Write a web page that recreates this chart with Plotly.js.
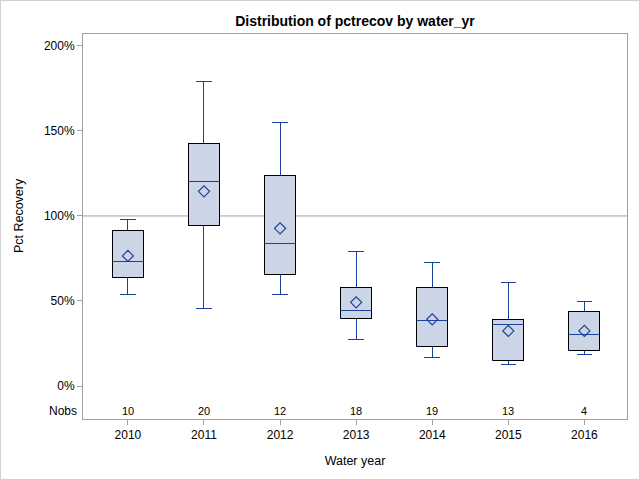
<!DOCTYPE html>
<html>
<head>
<meta charset="utf-8">
<script src="https://cdn.plot.ly/plotly-3.0.1.min.js"></script>
<style>
html,body{margin:0;padding:0;background:#fff;}
#chart{width:638px;height:478px;border:1px solid #d0d0d0;}
.boxlayer path{shape-rendering:crispEdges;}
.scatterlayer .trace:first-child .js-line{shape-rendering:crispEdges;}
</style>
</head>
<body>
<div id="chart"></div>
<script>
// Data
var years = ['2010','2011','2012','2013','2014','2015','2016'];
var nobs = [10, 20, 12, 18, 19, 13, 4];
var whiskerLow = [54.1, 45.7, 54.1, 27.5, 16.9, 12.7, 18.6];
var q1 = [63.9, 94.1, 65.3, 39.8, 23.3, 15.1, 21.0];
var median = [73.5, 120.4, 83.9, 44.5, 38.6, 36.3, 30.4];
var q3 = [91.2, 142.7, 123.5, 57.8, 57.8, 39.2, 43.9];
var whiskerHigh = [98.0, 178.8, 155.1, 79.2, 72.7, 61.0, 49.8];
var meanVal = [76.5, 114.5, 92.7, 49.2, 39.2, 32.4, 32.4];
var yTicks = [0, 50, 100, 150, 200];
var yTickText = ['0%', '50%', '100%', '150%', '200%'];

var blue = '#1a419e';
var fill = '#cbd5e5';
var axisGray = '#a0a0a0';
var font = 'Liberation Sans, Arial, sans-serif';
var boxWidth = 0.41;

var idx = years.map(function(_, i){ return i; });

// black outline of each box (interquartile rectangle), built from q1/q3
var outX = [], outY = [];
idx.forEach(function(i){
  var a = i - boxWidth / 2, b = i + boxWidth / 2;
  outX.push(a, b, b, a, a, null);
  outY.push(q1[i], q1[i], q3[i], q3[i], q1[i], null);
});

var traces = [
  {
    type: 'box', x: idx, q1: q1, median: median, q3: q3,
    lowerfence: whiskerLow, upperfence: whiskerHigh,
    width: boxWidth, whiskerwidth: 0.5,
    fillcolor: fill, line: {color: blue, width: 1},
    hoverinfo: 'skip', showlegend: false
  },
  {
    type: 'scatter', mode: 'lines', x: outX, y: outY,
    line: {color: '#000000', width: 1}, connectgaps: false,
    hoverinfo: 'skip', showlegend: false
  },
  {
    type: 'scatter', mode: 'markers', x: idx, y: meanVal,
    marker: {symbol: 'diamond-open', size: 8.5, color: blue, line: {width: 1.2, color: blue}},
    hoverinfo: 'skip', showlegend: false
  }
];

var annotations = idx.map(function(i){
  return {x: i, y: -14.7, xref: 'x', yref: 'y', text: String(nobs[i]), showarrow: false,
          font: {family: font, size: 11, color: '#000'}};
});
annotations.push({x: 0, xref: 'paper', xanchor: 'right', xshift: -4, y: -14.7, yref: 'y',
  text: 'Nobs', showarrow: false, font: {family: font, size: 12, color: '#000'}});
annotations.push({x: 0, xref: 'paper', xanchor: 'center', xshift: -64, y: 0.527, yref: 'paper',
  yanchor: 'middle', textangle: -90,
  text: 'Pct Recovery', showarrow: false, font: {family: font, size: 12.5, color: '#000'}});

var layout = {
  width: 638, height: 478,
  margin: {l: 82, r: 12, t: 33, b: 60},
  paper_bgcolor: '#fff', plot_bgcolor: '#fff',
  boxmode: 'overlay',
  font: {family: font, size: 12, color: '#000'},
  title: {text: '<b>Distribution of pctrecov by water_yr</b>', x: 0.5, xref: 'paper', y: 0.958, yanchor: 'middle',
          font: {family: font, size: 14, color: '#000'}},
  xaxis: {
    range: [-0.59, 6.56], tickvals: idx, ticktext: years,
    ticks: 'outside', ticklen: 5, tickcolor: axisGray, tickwidth: 1,
    showline: true, linecolor: axisGray, linewidth: 1, mirror: true,
    showgrid: false, zeroline: false,
    tickfont: {family: font, size: 12, color: '#000'},
    title: {text: 'Water year', standoff: 14, font: {family: font, size: 12.5, color: '#000'}}
  },
  yaxis: {
    range: [-19.4, 207], tickvals: yTicks, ticktext: yTickText,
    ticks: 'outside', ticklen: 5, tickcolor: axisGray, tickwidth: 1,
    showline: true, linecolor: axisGray, linewidth: 1, mirror: true,
    showgrid: false, zeroline: false,
    tickfont: {family: font, size: 12, color: '#000'}
  },
  shapes: [
    {type: 'line', xref: 'paper', x0: 0, x1: 1, yref: 'y', y0: 100, y1: 100,
     line: {color: axisGray, width: 1}, layer: 'below'}
  ],
  annotations: annotations
};

Plotly.newPlot('chart', traces, layout, {displayModeBar: false, staticPlot: true});
</script>
</body>
</html>
